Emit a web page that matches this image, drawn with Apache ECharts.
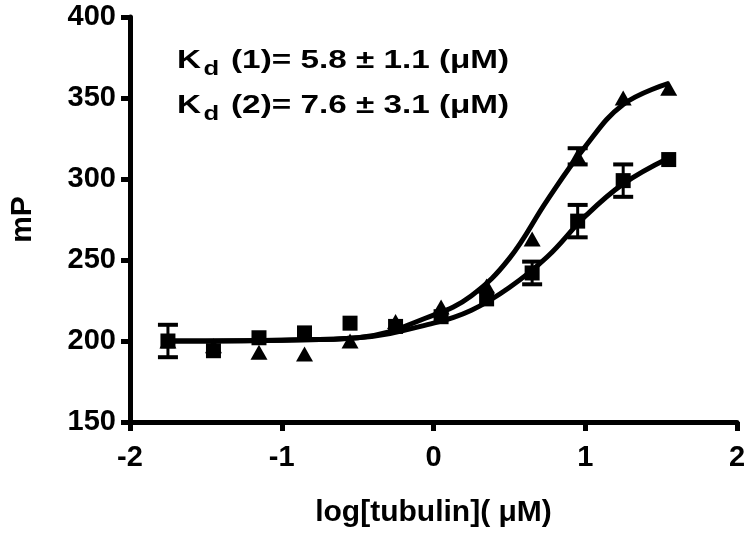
<!DOCTYPE html>
<html>
<head>
<meta charset="utf-8">
<script src="https://cdn.jsdelivr.net/npm/echarts@6/dist/echarts.min.js"></script>
<style>
html, body { margin: 0; background: #fff; }
#chart { width: 750px; height: 534px; }
</style>
</head>
<body>
<div id="chart"></div>
<script>
// measured points (log conc, mP)
const logConc = [-1.75, -1.45, -1.15, -0.85, -0.55, -0.25, 0.05, 0.35, 0.65, 0.95, 1.25, 1.55]
const mpTri = [200, 197, 193, 192, 200, 212, 221, 234, 263, 314, 350, 356]
const errTri = [0, 0, 0, 0, 0, 0, 0, 0, 0, 5, 0, 0]
const mpSq = [200, 194, 202, 205, 211, 209, 215, 226, 242, 274, 299, 312]
const errSq = [10, 0, 0, 0, 0, 0, 0, 0, 7, 10, 10, 0]

// fitted curves
const fitX = [-1.75, -1.5, -1.0, -0.5, 0, 0.25, 0.5, 0.75, 1.0, 1.25, 1.55]
const fitTri = [200, 200, 200.5, 202, 216, 228, 251, 287, 320, 346, 359]
const fitSq = [200, 200, 200.5, 202, 211, 219, 233, 252, 277, 297, 313]

const xTicks = [-2, -1, 0, 1, 2]
const yTicks = [150, 200, 250, 300, 350, 400]

const font = '"Liberation Sans", Arial, sans-serif'

const chart = echarts.init(document.getElementById('chart'))

const zip = (xs, ys) => xs.map((x, i) => [x, ys[i]])

// error bars through the axis scales
const errorBars = (vals, errs) => ({
    type: 'custom',
    z: 4,
    silent: true,
    data: logConc.map((x, i) => [x, vals[i] - errs[i], vals[i] + errs[i], errs[i]]).filter(d => d[3] > 0),
    renderItem: (params, api) => {
        const lo = api.coord([api.value(0), api.value(1)])
        const hi = api.coord([api.value(0), api.value(2)])
        const w = 10
        const st = { stroke: '#000', lineWidth: 4 }
        return {
            type: 'group',
            children: [
                { type: 'line', shape: { x1: lo[0], y1: lo[1], x2: hi[0], y2: hi[1] }, style: { stroke: '#000', lineWidth: 3 } },
                { type: 'line', shape: { x1: lo[0] - w, y1: lo[1], x2: lo[0] + w, y2: lo[1] }, style: st },
                { type: 'line', shape: { x1: hi[0] - w, y1: hi[1], x2: hi[0] + w, y2: hi[1] }, style: st }
            ]
        }
    }
})

const axisCommon = {
    type: 'value',
    splitLine: { show: false },
    axisLine: { show: true, onZero: false, lineStyle: { color: '#000', width: 5 } },
    axisTick: { show: true, length: 9, lineStyle: { color: '#000', width: 5 } },
    axisLabel: { color: '#000', fontSize: 29, fontWeight: 'bold', fontFamily: font },
    nameLocation: 'middle',
    nameTextStyle: { color: '#000', fontSize: 30, fontWeight: 'bold', fontFamily: font }
}

const kdText = (n, val) => '{k|K}{d|d}{k| (' + n + ')= ' + val + ' (μM)}'
const kdRich = {
    k: { fontSize: 26, fontWeight: 'bold', fontFamily: font, color: '#000', lineHeight: 32 },
    d: { fontSize: 20, fontWeight: 'bold', fontFamily: font, color: '#000', lineHeight: 32, padding: [17, 2, 0, 2] }
}

const option = {
    animation: false,
    backgroundColor: '#fff',
    grid: { left: 128, right: 13, top: 17, bottom: 112, containLabel: false },
    xAxis: Object.assign({}, axisCommon, {
        min: xTicks[0], max: xTicks[xTicks.length - 1], interval: 1,
        name: 'log[tubulin]( μM)', nameGap: 76,
        axisLabel: Object.assign({}, axisCommon.axisLabel, { margin: 21 })
    }),
    yAxis: Object.assign({}, axisCommon, {
        min: yTicks[0], max: yTicks[yTicks.length - 1], interval: 50,
        name: 'mP', nameGap: 92,
        axisLabel: Object.assign({}, axisCommon.axisLabel, { margin: 14 })
    }),
    graphic: [
        { type: 'text', x: 177, y: 45, scaleX: 1.28, style: { text: kdText(1, '5.8 ± 1.1'), rich: kdRich } },
        { type: 'text', x: 177, y: 90, scaleX: 1.28, style: { text: kdText(2, '7.6 ± 3.1'), rich: kdRich } }
    ],
    series: [
        {
            type: 'line', data: zip(fitX, fitTri), smooth: 0.4, showSymbol: false,
            lineStyle: { color: '#000', width: 5 }, z: 2, silent: true
        },
        {
            type: 'line', data: zip(fitX, fitSq), smooth: 0.4, showSymbol: false,
            lineStyle: { color: '#000', width: 5 }, z: 2, silent: true
        },
        errorBars(mpTri, errTri),
        errorBars(mpSq, errSq),
        {
            type: 'scatter', data: zip(logConc, mpSq), symbol: 'rect', symbolSize: 15,
            itemStyle: { color: '#000', opacity: 1 }, z: 5
        },
        {
            type: 'scatter', data: zip(logConc, mpTri), symbol: 'triangle', symbolSize: [17, 15],
            itemStyle: { color: '#000', opacity: 1 }, z: 5
        }
    ]
}

chart.setOption(option)
</script>
</body>
</html>
